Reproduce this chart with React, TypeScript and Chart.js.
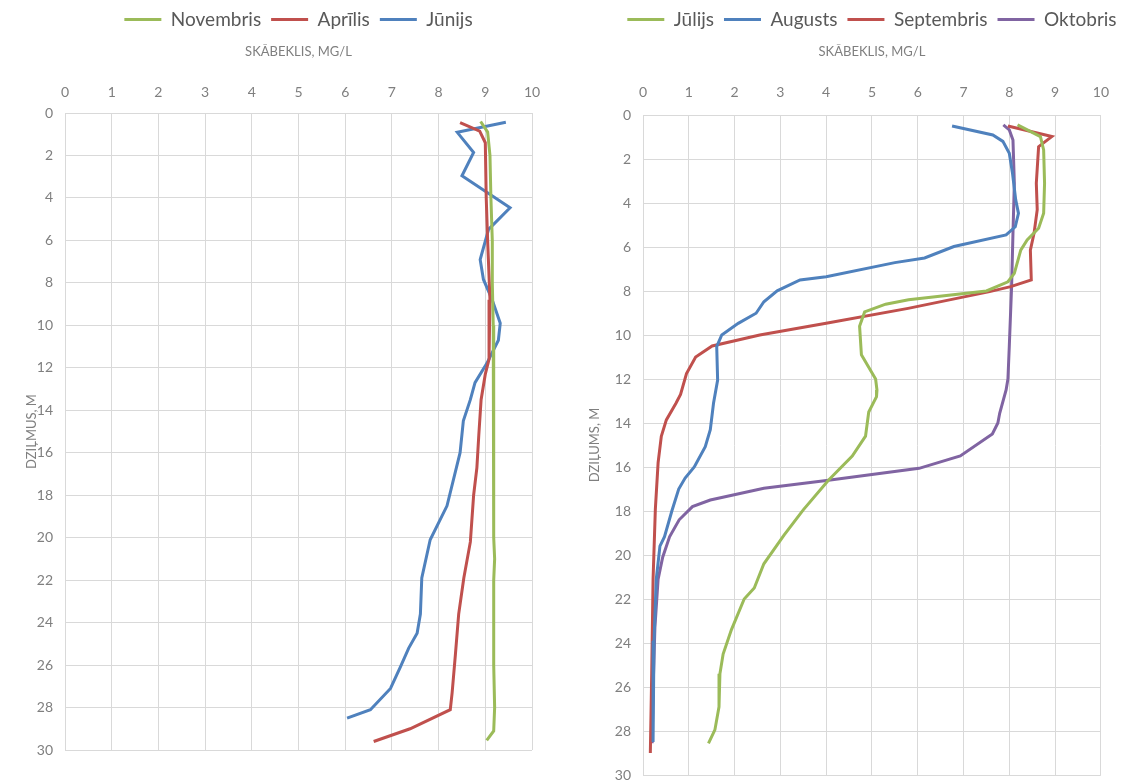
import React, { useEffect, useRef } from "react";
import { Chart, registerables } from "chart.js";

Chart.register(...registerables);

// ---------- shared axes ----------
const xMin = 0;
const xMax = 10;
const xStep = 1;
const depthMin = 0;
const depthMax = 30;
const depthStep = 2;
const xAxisTitle = "SKĀBEKLIS, MG/L";
const leftYTitle = "DZIĻMUS, M";
const rightYTitle = "DZIĻUMS, M";

// ---------- left chart ----------
const novLabel = "Novembris";
const novDepth = [0.4, 0.9, 2, 4, 6, 8, 10, 12, 14, 16, 18, 20, 21, 22, 24, 26, 28, 29.1, 29.55];
const novValue = [8.9, 9.05, 9.1, 9.12, 9.15, 9.15, 9.17, 9.18, 9.18, 9.18, 9.18, 9.18, 9.2, 9.18, 9.18, 9.18, 9.2, 9.18, 9.03];

const aprLabel = "Aprīlis";
const aprDepth = [0.45, 0.85, 1.4, 4, 6, 8.8, 11.6, 12.3, 13.5, 15.2, 16.7, 18, 20.2, 21.9, 23.6, 25.5, 27.3, 28.1, 29, 29.6];
const aprValue = [8.46, 8.88, 9.0, 9.02, 9.05, 9.1, 9.08, 9.0, 8.91, 8.86, 8.82, 8.75, 8.68, 8.54, 8.43, 8.36, 8.29, 8.25, 7.39, 6.61];

const junLabel = "Jūnijs";
const junDepth = [0.44, 0.91, 1.86, 2.96, 4.46, 5.48, 6.9, 7.84, 8.75, 9.9, 10.7, 11.8, 12.7, 13.5, 14.5, 16.0, 18.5, 20.1, 21.9, 23.6, 24.5, 25.2, 26.1, 27.1, 28.1, 28.5];
const junValue = [9.44, 8.4, 8.75, 8.5, 9.53, 9.07, 8.89, 8.96, 9.14, 9.32, 9.28, 9.03, 8.78, 8.68, 8.53, 8.46, 8.18, 7.82, 7.64, 7.61, 7.54, 7.36, 7.18, 6.97, 6.54, 6.04];

// ---------- right chart ----------
const julLabel = "Jūlijs";
const julDepth = [0.45, 0.98, 1.59, 3.1, 4.47, 5.15, 5.68, 6.14, 7.2, 7.58, 8.0, 8.4, 8.6, 8.95, 9.6, 10.9, 12.0, 12.5, 12.8, 13.5, 14.6, 15.5, 16.6, 17.95, 19.1, 20.4, 21.5, 22.0, 23.4, 24.5, 25.4, 26.9, 27.95, 28.56];
const julValue = [8.18, 8.68, 8.75, 8.77, 8.75, 8.64, 8.39, 8.25, 8.11, 7.97, 7.5, 5.8, 5.3, 4.84, 4.73, 4.77, 5.08, 5.11, 5.1, 4.93, 4.86, 4.57, 4.05, 3.5, 3.08, 2.64, 2.43, 2.21, 1.93, 1.75, 1.68, 1.66, 1.57, 1.43];

const augLabel = "Augusts";
const augDepth = [0.5, 0.91, 1.2, 1.74, 2.65, 3.86, 4.47, 5.08, 5.45, 5.98, 6.5, 6.71, 7.35, 7.5, 7.99, 8.49, 9.01, 9.47, 10.0, 10.53, 12.05, 13.1, 14.3, 15.08, 16.0, 16.5, 17.0, 18.0, 19.17, 19.6, 21.1, 23.9, 28.5];
const augValue = [6.75, 7.64, 7.86, 8.0, 8.07, 8.14, 8.2, 8.13, 7.93, 6.79, 6.15, 5.5, 4.0, 3.43, 2.93, 2.64, 2.47, 2.08, 1.72, 1.61, 1.63, 1.54, 1.47, 1.36, 1.12, 0.92, 0.78, 0.63, 0.47, 0.37, 0.29, 0.24, 0.22];

const sepLabel = "Septembris";
const sepDepth = [0.5, 0.98, 1.44, 3.1, 4.3, 5.38, 6.14, 7.5, 7.8, 8.03, 8.79, 9.47, 10.0, 10.5, 11.0, 11.75, 12.7, 13.1, 13.86, 14.6, 15.8, 17.9, 21.1, 25.4, 29.0];
const sepValue = [7.97, 8.93, 8.64, 8.59, 8.61, 8.54, 8.46, 8.48, 8.03, 7.57, 5.79, 4.0, 2.55, 1.51, 1.15, 0.95, 0.82, 0.72, 0.51, 0.4, 0.33, 0.27, 0.22, 0.19, 0.16];

const octLabel = "Oktobris";
const octDepth = [0.45, 0.68, 1.14, 3.1, 5.38, 7.8, 10.5, 12.0, 12.5, 13.56, 14.0, 14.5, 15.5, 16.06, 16.6, 16.97, 17.5, 17.8, 18.4, 19.17, 20.1, 21.1, 23.3, 26.1, 28.56];
const octValue = [7.87, 8.0, 8.08, 8.11, 8.08, 8.05, 8.0, 7.97, 7.93, 7.79, 7.75, 7.63, 6.93, 6.03, 4.05, 2.64, 1.47, 1.08, 0.79, 0.58, 0.43, 0.33, 0.26, 0.22, 0.2];

// ---------- styling ----------
const GREEN = "#9BBB59";
const RED = "#C0504D";
const BLUE = "#4F81BD";
const PURPLE = "#8064A2";
const FONT = "Lato, 'Open Sans', sans-serif";
const TICK_COLOR = "#7f7f7f";
const GRID_COLOR = "#d9d9d9";
const LEGEND_COLOR = "#595959";

type Series = { label: string; depth: number[]; value: number[]; color: string };

const leftSeries: Series[] = [
  { label: novLabel, depth: novDepth, value: novValue, color: GREEN },
  { label: aprLabel, depth: aprDepth, value: aprValue, color: RED },
  { label: junLabel, depth: junDepth, value: junValue, color: BLUE },
];

const rightSeries: Series[] = [
  { label: julLabel, depth: julDepth, value: julValue, color: GREEN },
  { label: augLabel, depth: augDepth, value: augValue, color: BLUE },
  { label: sepLabel, depth: sepDepth, value: sepValue, color: RED },
  { label: octLabel, depth: octDepth, value: octValue, color: PURPLE },
];

// center the legend over the plot area
const centerLegend = {
  id: "centerLegend",
  afterLayout(chart: any) {
    const lg = chart.legend;
    if (!lg) return;
    const cx = (chart.chartArea.left + chart.chartArea.right) / 2;
    const w = lg.right - lg.left;
    lg.left = cx - w / 2;
    lg.right = cx + w / 2;
  },
};

type Layout = {
  plotTop: number;
  yAxisWidth: number;
  padRight: number;
  padBottom: number;
  yTitle: string;
  yTitleOffset: number;
  xTickPad: number;
};

function buildConfig(series: Series[], L: Layout): any {
  return {
    type: "scatter",
    data: {
      datasets: series.map((s) => ({
        label: s.label,
        data: s.depth.map((d, i) => ({ x: s.value[i], y: d })),
        borderColor: s.color,
        backgroundColor: s.color,
        borderWidth: 3,
        showLine: true,
        pointRadius: 0,
        pointHoverRadius: 0,
        fill: false,
        tension: 0,
      })),
    },
    options: {
      responsive: false,
      animation: false,
      events: [],
      layout: {
        autoPadding: false,
        padding: { left: 0, top: 0, right: L.padRight, bottom: L.padBottom },
      },
      plugins: {
        legend: {
          display: true,
          position: "top",
          labels: {
            usePointStyle: true,
            pointStyle: "line",
            pointStyleWidth: 37,
            color: LEGEND_COLOR,
            font: { family: FONT, size: 19 },
            padding: 10,
          },
        },
        tooltip: { enabled: false },
      },
      scales: {
        x: {
          type: "linear",
          position: "top",
          min: xMin,
          max: xMax,
          ticks: {
            stepSize: xStep,
            color: TICK_COLOR,
            font: { family: FONT, size: 14 },
            padding: L.xTickPad,
          },
          grid: { color: GRID_COLOR, lineWidth: 1, drawTicks: false },
          border: { color: GRID_COLOR },
          title: {
            display: true,
            text: xAxisTitle,
            color: TICK_COLOR,
            font: { family: FONT, size: 13 },
            padding: { top: 5, bottom: 0 },
          },
          afterFit(s: any) {
            const lh = s.chart.legend ? s.chart.legend.height : 0;
            s.height = L.plotTop - lh;
          },
        },
        y: {
          type: "linear",
          reverse: true,
          min: depthMin,
          max: depthMax,
          ticks: {
            stepSize: depthStep,
            color: TICK_COLOR,
            font: { family: FONT, size: 14 },
            padding: 12,
          },
          grid: { color: GRID_COLOR, lineWidth: 1, drawTicks: false },
          border: { color: GRID_COLOR },
          title: {
            display: true,
            text: L.yTitle,
            color: TICK_COLOR,
            font: { family: FONT, size: 13 },
            padding: { top: L.yTitleOffset, bottom: 0 },
          },
          afterFit(s: any) {
            s.width = L.yAxisWidth;
          },
        },
      },
    },
    plugins: [centerLegend],
  };
}

export default function App() {
  const leftRef = useRef<HTMLCanvasElement>(null);
  const rightRef = useRef<HTMLCanvasElement>(null);

  useEffect(() => {
    const c1 = new Chart(
      leftRef.current as HTMLCanvasElement,
      buildConfig(leftSeries, {
        plotTop: 113,
        yAxisWidth: 65,
        padRight: 28,
        padBottom: 30,
        yTitle: leftYTitle,
        yTitleOffset: 24,
        xTickPad: 12,
      })
    );
    const c2 = new Chart(
      rightRef.current as HTMLCanvasElement,
      buildConfig(rightSeries, {
        plotTop: 115,
        yAxisWidth: 103,
        padRight: 13,
        padBottom: 25,
        yTitle: rightYTitle,
        yTitleOffset: 47,
        xTickPad: 14,
      })
    );
    return () => {
      c1.destroy();
      c2.destroy();
    };
  }, []);

  return (
    <div
      style={{
        position: "absolute",
        left: 0,
        top: 0,
        width: 1123,
        height: 780,
        overflow: "hidden",
        background: "#ffffff",
      }}
    >
      <canvas
        ref={leftRef}
        width={560}
        height={780}
        style={{ position: "absolute", left: 0, top: 0, width: 560, height: 780 }}
      />
      <canvas
        ref={rightRef}
        width={583}
        height={800}
        style={{ position: "absolute", left: 540, top: 0, width: 583, height: 800 }}
      />
    </div>
  );
}
